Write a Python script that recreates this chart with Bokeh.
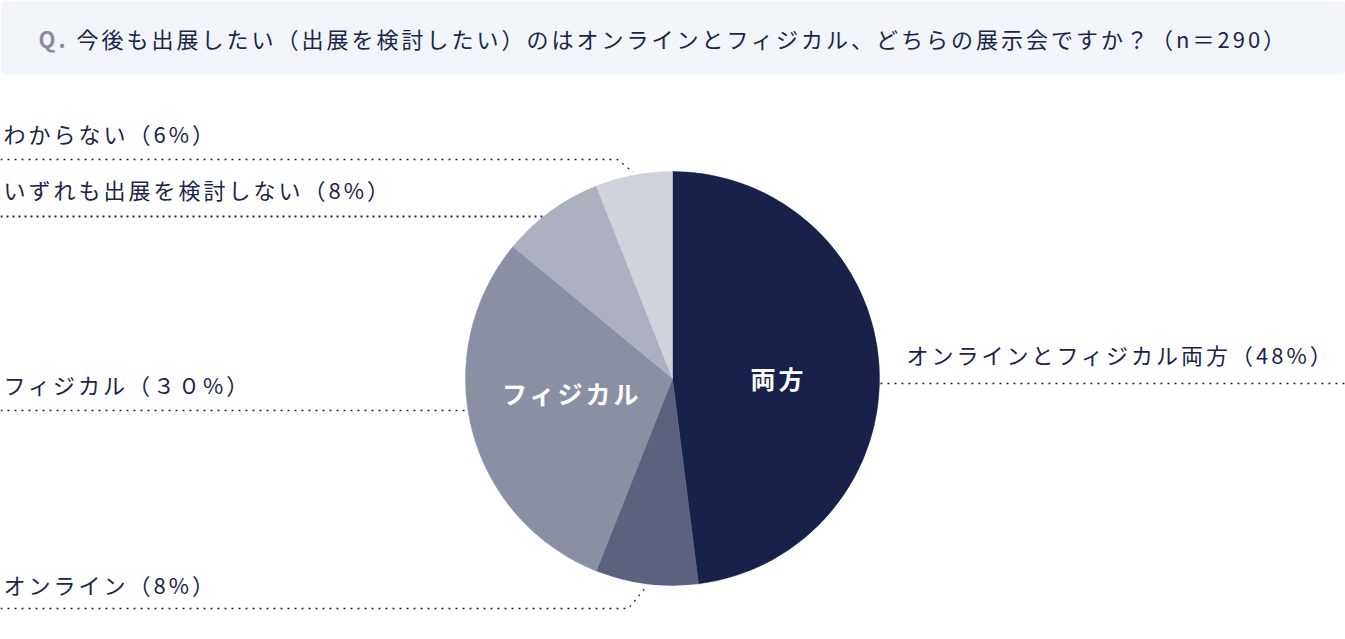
import numpy as np
from bokeh.plotting import figure
from bokeh.models import Range1d, ColumnDataSource, InlineStyleSheet
from bokeh.core.properties import value
from bokeh.embed import file_html
from bokeh.resources import INLINE

# ---------------- data ----------------
categories = ["両方", "オンライン", "フィジカル", "いずれも出展を検討しない", "わからない"]
values = [48, 8, 30, 8, 6]
outer_labels = [
    "オンラインとフィジカル両方（48%）",
    "オンライン（8%）",
    "フィジカル（３０%）",
    "いずれも出展を検討しない（8%）",
    "わからない（6%）",
]
inner_labels = ["両方", "", "フィジカル", "", ""]
title_q = "Q."
title_text = "今後も出展したい（出展を検討したい）のはオンラインとフィジカル、どちらの展示会ですか？（n＝290）"

# ---------------- style ----------------
colors = ["#17214a", "#5b617f", "#8a8fa3", "#adb0bf", "#d0d2dc"]
TEXT = "#1c2449"
FONT = value("Noto Sans CJK JP")
LBL = "22px"
W, H = 1345, 639
CX, CY, R = 672, 378, 207           # pixel coords (y from top)

def Y(y):
    return H - y

p = figure(width=W, height=H, x_range=Range1d(0, W), y_range=Range1d(0, H),
           output_backend="svg", toolbar_location=None, min_border=0,
           x_axis_type=None, y_axis_type=None)
p.grid.visible = False
p.outline_line_color = None
p.background_fill_color = "white"
p.border_fill_color = "white"
p.stylesheets = [InlineStyleSheet(css=":host { letter-spacing: 3px; }")]

# title box
p.quad(left=0, right=W, top=Y(0), bottom=Y(74), fill_color="#f1f4f8",
       line_color=None, border_radius=6)
p.text(x=[38], y=[Y(37)], text=[title_q], text_font=FONT, text_font_size="22px",
       text_font_style="bold", text_color="#8e8a9e", text_baseline="middle", text_align="left")
p.text(x=[76], y=[Y(37)], text=[title_text], text_font=FONT, text_font_size="22px",
       text_color=TEXT, text_baseline="middle", text_align="left")

# pie
fr = np.array(values, dtype=float) / sum(values)
cum = np.concatenate([[0.0], np.cumsum(fr)])
start = np.pi / 2 - 2 * np.pi * cum[:-1]
end = np.pi / 2 - 2 * np.pi * cum[1:]
mid = (start + end) / 2
src = ColumnDataSource(dict(start=start, end=end, color=colors, cat=categories))
p.wedge(x=CX, y=Y(CY), radius=R, start_angle="start", end_angle="end",
        direction="clock", fill_color="color", line_color="color", line_width=0.5, source=src)

def edge_pt(a, rr=R + 1):
    return CX + rr * np.cos(a), CY - rr * np.sin(a)

def edge_at_y(y, side):
    dy = y - CY
    dx = np.sqrt(R * R - dy * dy)
    return CX + side * dx

lw = 1.3
dash = "2 5"
# 両方 (right side)
yl = 383
p.line([edge_at_y(yl, 1) + 1, W], [Y(yl), Y(yl)], line_color=TEXT, line_width=lw, line_dash=dash)
p.text(x=[906], y=[Y(353)], text=[outer_labels[0]], text_font=FONT, text_font_size=LBL,
       text_color=TEXT, text_baseline="middle", text_align="left")
# オンライン
ex, ey = edge_pt(mid[1], R + 3)
p.line([0, 628, ex], [Y(608), Y(608), Y(ey)], line_color=TEXT, line_width=lw, line_dash=dash)
p.text(x=[3], y=[Y(583)], text=[outer_labels[1]], text_font=FONT, text_font_size=LBL,
       text_color=TEXT, text_baseline="middle", text_align="left")
# フィジカル
yl = 410
p.line([0, edge_at_y(yl, -1) - 3], [Y(yl), Y(yl)], line_color=TEXT, line_width=lw, line_dash=dash)
p.text(x=[3], y=[Y(383)], text=[outer_labels[2]], text_font=FONT, text_font_size=LBL,
       text_color=TEXT, text_baseline="middle", text_align="left")
# いずれも
yl = 216
p.line([0, edge_at_y(yl, -1)], [Y(yl), Y(yl)], line_color=TEXT, line_width=2.2, line_dash="2 4")
p.text(x=[3], y=[Y(188)], text=[outer_labels[3]], text_font=FONT, text_font_size=LBL,
       text_color=TEXT, text_baseline="middle", text_align="left")
# わからない
ex, ey = edge_pt(mid[4], R + 3)
p.line([0, 617, ex], [Y(159), Y(159), Y(ey)], line_color=TEXT, line_width=lw, line_dash=dash)
p.text(x=[3], y=[Y(132)], text=[outer_labels[4]], text_font=FONT, text_font_size=LBL,
       text_color=TEXT, text_baseline="middle", text_align="left")

# inner labels
p.text(x=[775], y=[Y(377)], text=[inner_labels[0]], text_font=FONT, text_font_size="25px",
       text_font_style="bold", text_color="white", text_baseline="middle", text_align="center")
p.text(x=[564], y=[Y(392)], text=[inner_labels[2]], text_font=FONT, text_font_size="25px",
       text_font_style="bold", text_color="white", text_baseline="middle", text_align="center")

open("out.html", "w").write(file_html(p, INLINE))
